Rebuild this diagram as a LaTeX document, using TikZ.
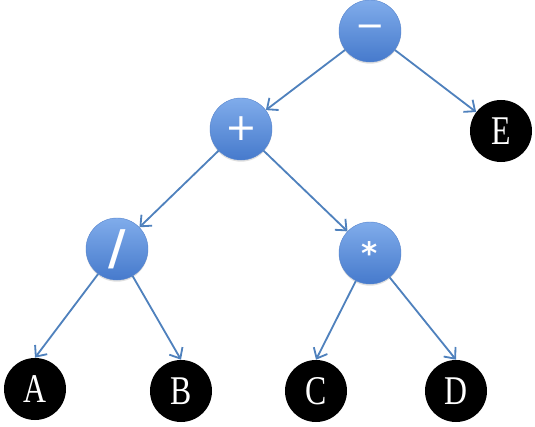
\documentclass[tikz,border=0pt]{standalone}
\usepackage{fontspec}
\newfontfamily\leaffont[FakeStretch=0.78]{Liberation Serif}
\newfontfamily\opfont{DejaVu Sans}
\usetikzlibrary{arrows.meta,shadows}
\definecolor{optop}{RGB}{128,172,235}
\definecolor{opbottom}{RGB}{70,122,204}
\definecolor{opedge}{RGB}{86,132,205}
\definecolor{linkblue}{RGB}{79,129,189}
\begin{document}
\begin{tikzpicture}[x=0.025cm,y=-0.025cm,
  opnode/.style={circle,minimum size=1.55cm,inner sep=0pt,top color=optop,bottom color=opbottom,draw=opedge,line width=0.3pt,text=white,
    drop shadow={shadow xshift=0pt,shadow yshift=-1.2pt,opacity=0.25}},
  leafnode/.style={circle,fill=black,minimum size=1.55cm,inner sep=0pt,text=white,font=\leaffont\fontsize{29}{29}\selectfont},
  link/.style={draw=linkblue,line width=1.3pt,-{Straight Barb[length=2.2mm,width=3.8mm]}}]
\useasboundingbox (0,0) rectangle (535,427);
\node[opnode,font=\opfont\fontsize{25}{25}\selectfont] (minus) at (370,31) {−};
\node[opnode,font=\opfont\fontsize{27}{27}\selectfont] (plus) at (241,129) {+};
\node[opnode,font=\opfont\bfseries\fontsize{34}{34}\selectfont] (slash) at (117,249) {/};
\node[opnode,font=\opfont\bfseries\fontsize{22}{22}\selectfont] (star) at (370,253) {\raisebox{-0.25em}{*}};
\node[leafnode] (E) at (501,131) {E};
\node[leafnode] (A) at (35,389) {A};
\node[leafnode] (B) at (181,391) {B};
\node[leafnode] (C) at (316,391) {C};
\node[leafnode] (D) at (456,391) {D};
\draw[link] (minus) -- (plus);
\draw[link] (minus) -- (E);
\draw[link] (plus) -- (slash);
\draw[link] (plus) -- (star);
\draw[link] (slash) -- (A.north);
\draw[link] (slash) -- (B.north);
\draw[link] (star) -- (C.north);
\draw[link] (star) -- (D.north);
\end{tikzpicture}
\end{document}
